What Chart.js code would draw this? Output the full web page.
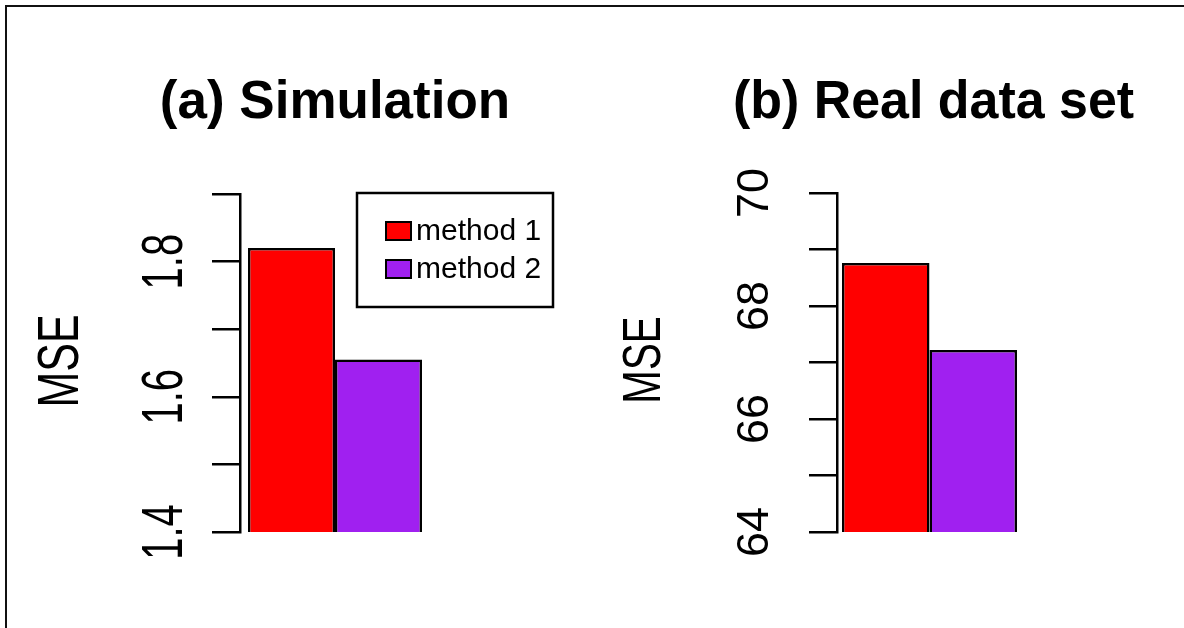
<!DOCTYPE html>
<html lang="en">
<head>
  <meta charset="UTF-8" />
  <title>MSE comparison</title>
  <script src="https://cdn.jsdelivr.net/npm/chart.js"></script>
  <style>
    body {
      margin: 0;
      padding: 0;
      width: 1184px;
      height: 628px;
      overflow: hidden;
      background: #fff;
      position: relative;
    }
    .frame {
      position: absolute;
      left: 5px;
      top: 5px;
      width: 1200px;
      height: 640px;
      border-top: 2px solid #111;
      border-left: 2px solid #111;
    }
    canvas {
      position: absolute;
      top: 0;
    }
    #simChart { left: 0; }
    #realChart { left: 592px; }
  </style>
</head>
<body>
  <div class="frame"></div>
  <canvas id="simChart" width="592" height="628"></canvas>
  <canvas id="realChart" width="592" height="628"></canvas>

  <script>
    // series
    const seriesNames = ['method 1', 'method 2'];
    const seriesColors = ['#FF0000', '#A020F0'];

    // (a) simulation
    const simTitle = '(a) Simulation';
    const simValues = [1.82, 1.655];
    const simRange = [1.4, 1.9];
    const simStep = 0.1;
    const simTickLabels = [1.4, 1.6, 1.8];

    // (b) real data
    const realTitle = '(b) Real data set';
    const realValues = [68.76, 67.22];
    const realRange = [64, 70];
    const realStep = 1;
    const realTickLabels = [64, 66, 68, 70];

    const yTitle = 'MSE';
    const FONT = '"Liberation Sans", Arial, Helvetica, sans-serif';

    // draw text, optionally rotated (reads bottom to top) and squeezed along its direction
    function drawText(ctx, text, x, y, font, sx, rotated, align) {
      ctx.save();
      ctx.translate(x, y);
      if (rotated) ctx.rotate(-Math.PI / 2);
      ctx.scale(sx, 1);
      ctx.font = font;
      ctx.fillStyle = '#000';
      ctx.textAlign = align || 'center';
      ctx.textBaseline = 'alphabetic';
      ctx.fillText(text, 0, 0);
      ctx.restore();
    }

    // titles, y tick labels, axis title and legend box (R base graphics look)
    const panelText = {
      id: 'panelText',
      afterDraw(chart, args, o) {
        const ctx = chart.ctx;
        const area = chart.chartArea;
        const y = chart.scales.y;

        drawText(ctx, o.title, (area.left + area.right) / 2 + o.titleShift, o.titleBase,
          `bold ${o.titleSize}px ${FONT}`, o.titleSx, false);

        o.tickLabels.forEach(v => {
          drawText(ctx, String(v), area.left - o.tickOffset, y.getPixelForValue(v),
            `${o.tickSize}px ${FONT}`, o.tickSx, true);
        });

        drawText(ctx, yTitle, o.yTitleX, o.yTitleY, `${o.yTitleSize}px ${FONT}`, o.yTitleSx, true);

        if (o.legend) {
          const lg = o.legend;
          ctx.save();
          ctx.strokeStyle = '#000';
          ctx.lineWidth = 2.5;
          ctx.strokeRect(lg.x, lg.y, lg.w, lg.h);
          chart.data.datasets.forEach((ds, i) => {
            const top = lg.firstRow + i * lg.rowGap;
            ctx.fillStyle = ds.backgroundColor;
            ctx.fillRect(lg.swX, top, lg.sw, lg.sh);
            ctx.lineWidth = 2;
            ctx.strokeRect(lg.swX, top, lg.sw, lg.sh);
            drawText(ctx, ds.label, lg.textX, top + lg.sh, `${lg.size}px ${FONT}`, 1, false, 'left');
          });
          ctx.restore();
        }
      }
    };

    function makeChart(id, values, range, step, pct, padding, text) {
      return new Chart(document.getElementById(id), {
        type: 'bar',
        data: {
          labels: [''],
          datasets: seriesNames.map((name, i) => ({
            label: name,
            data: [values[i]],
            backgroundColor: seriesColors[i],
            borderColor: '#000',
            borderWidth: 2.5,
            borderSkipped: false,
            barPercentage: 1,
            categoryPercentage: pct
          }))
        },
        options: {
          responsive: false,
          animation: false,
          devicePixelRatio: 1,
          layout: { padding },
          plugins: {
            legend: { display: false },
            title: { display: false },
            tooltip: { enabled: false },
            panelText: text
          },
          scales: {
            x: { display: false },
            y: {
              min: range[0],
              max: range[1],
              afterFit: s => { s.width = 0; },
              ticks: { display: false, stepSize: step },
              grid: {
                drawOnChartArea: false,
                drawTicks: true,
                tickLength: 28,
                color: '#000',
                lineWidth: 2.5,
                tickWidth: 2.5
              },
              border: { display: true, color: '#000', width: 2.5 }
            }
          }
        },
        plugins: [panelText]
      });
    }

    makeChart('simChart', simValues, simRange, simStep, 174 / 190,
      { left: 240, right: 162, top: 194, bottom: 96 },
      {
        title: simTitle, titleSize: 53, titleSx: 1, titleBase: 118, titleShift: 0,
        tickLabels: simTickLabels, tickSize: 58, tickSx: 0.69, tickOffset: 58,
        yTitleX: 78, yTitleY: 361, yTitleSize: 58, yTitleSx: 0.74,
        legend: {
          x: 357, y: 193, w: 196, h: 114,
          swX: 386, sw: 25, sh: 18, firstRow: 222, rowGap: 38,
          textX: 416, size: 30
        }
      });

    makeChart('realChart', realValues, realRange, realStep, 175 / 185,
      { left: 245, right: 162, top: 193, bottom: 96 },
      {
        title: realTitle, titleSize: 53, titleSx: 0.98, titleBase: 118, titleShift: 4,
        tickLabels: realTickLabels, tickSize: 45, tickSx: 1, tickOffset: 69,
        yTitleX: 68, yTitleY: 360, yTitleSize: 53, yTitleSx: 0.76,
        legend: null
      });
  </script>
</body>
</html>
